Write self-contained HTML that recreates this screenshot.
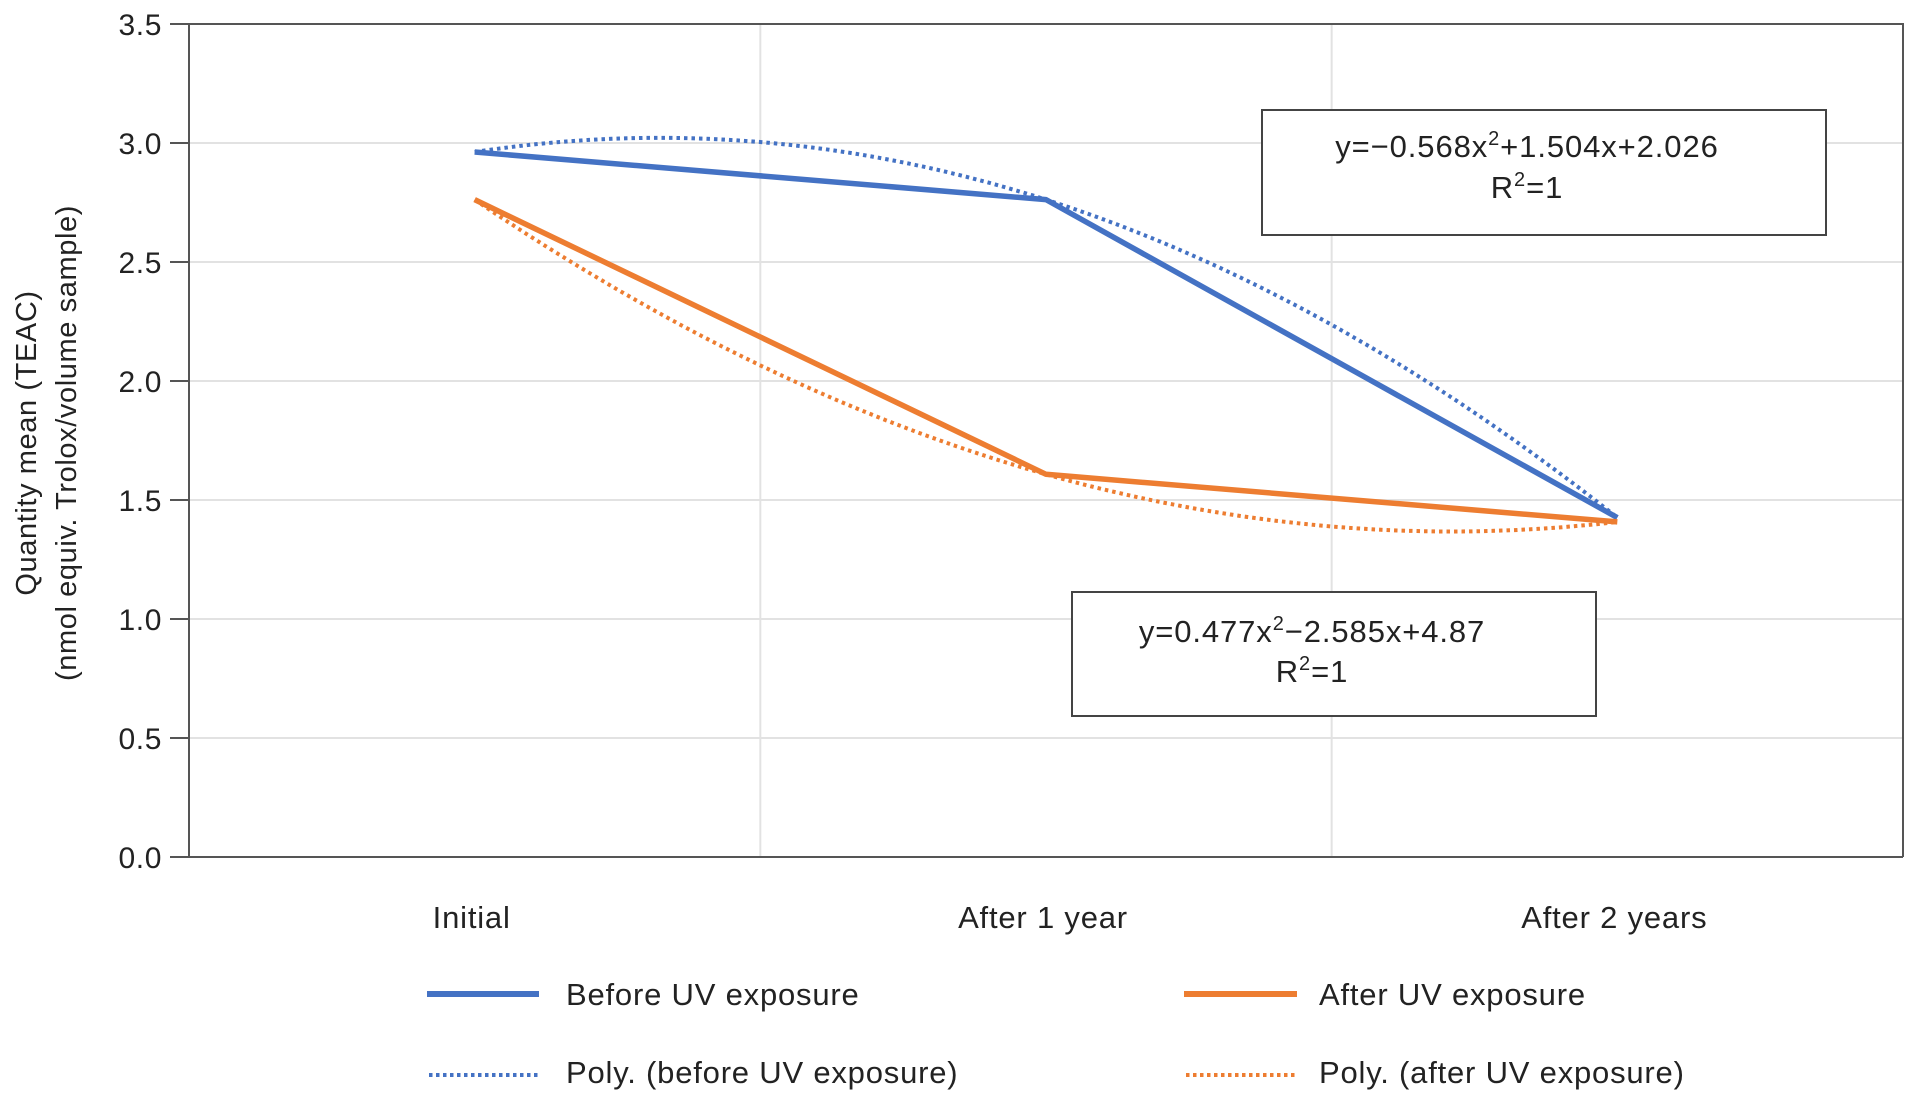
<!DOCTYPE html>
<html><head><meta charset="utf-8">
<style>
html,body{margin:0;padding:0;background:#fff;}
svg{display:block;font-family:"Liberation Sans",Arial,sans-serif;}
</style></head>
<body>
<svg id="chart" width="1913" height="1101" viewBox="0 0 1913 1101" xmlns="http://www.w3.org/2000/svg">
<g id="grid"></g>
<g id="axes"></g>
<g id="series"></g>
<g font-size="29" letter-spacing="0.6" fill="#222" text-anchor="middle">
<text transform="translate(36,443) rotate(-90)">Quantity mean (TEAC)</text>
<text transform="translate(76,443) rotate(-90)">(nmol equiv. Trolox/volume sample)</text>
</g>
<g>
<rect x="1262" y="110" width="564" height="125" fill="#fff" stroke="#444" stroke-width="2"/>
<text x="1527" y="157" font-size="31" letter-spacing="0.9" text-anchor="middle" fill="#222">y=−0.568x<tspan dy="-12" font-size="20">2</tspan><tspan dy="12">+1.504x+2.026</tspan></text>
<text x="1527" y="198" font-size="31" letter-spacing="0.9" text-anchor="middle" fill="#222">R<tspan dy="-12" font-size="20">2</tspan><tspan dy="12">=1</tspan></text>
</g>
<g>
<rect x="1072" y="592" width="524" height="124" fill="#fff" stroke="#444" stroke-width="2"/>
<text x="1312" y="642" font-size="31" letter-spacing="0.9" text-anchor="middle" fill="#222">y=0.477x<tspan dy="-12" font-size="20">2</tspan><tspan dy="12">−2.585x+4.87</tspan></text>
<text x="1312" y="682" font-size="31" letter-spacing="0.9" text-anchor="middle" fill="#222">R<tspan dy="-12" font-size="20">2</tspan><tspan dy="12">=1</tspan></text>
</g>
<g font-size="31" letter-spacing="0.8" fill="#222">
<g><line x1="427" y1="994" x2="539" y2="994" stroke="#4472c4" stroke-width="6"/><text x="566" y="1005">Before UV exposure</text></g>
<g><line x1="1184" y1="994" x2="1297" y2="994" stroke="#ed7d31" stroke-width="6"/><text x="1319" y="1005">After UV exposure</text></g>
<g><line x1="429" y1="1075" x2="539" y2="1075" stroke="#4472c4" stroke-width="4" stroke-dasharray="3.5,3.5"/><text x="566" y="1083">Poly. (before UV exposure)</text></g>
<g><line x1="1186" y1="1075" x2="1297" y2="1075" stroke="#ed7d31" stroke-width="4" stroke-dasharray="3.5,3.5"/><text x="1319" y="1083">Poly. (after UV exposure)</text></g>
</g>
</svg>
<script>
const categories = ["Initial", "After 1 year", "After 2 years"];
const beforeUV = [2.962, 2.762, 1.426];
const afterUV = [2.762, 1.608, 1.408];
const polyBefore = [-0.568, 1.504, 2.026];
const polyAfter = [0.477, -2.585, 4.87];
const yTicks = [0, 0.5, 1.0, 1.5, 2.0, 2.5, 3.0, 3.5];

const NS = "http://www.w3.org/2000/svg";
const L = 189, R = 1903, T = 24, B = 857, yMax = 3.5;
const band = (R - L) / categories.length;
const xPos = i => L + band * (i + 0.5);
const xCont = x => L + band * (x - 0.5);
const yPos = v => B - (v / yMax) * (B - T);
function mk(tag, attrs, parent){const e=document.createElementNS(NS,tag);for(const k in attrs)e.setAttribute(k,attrs[k]);parent.appendChild(e);return e;}
const gridG=document.getElementById('grid'), axesG=document.getElementById('axes'), seriesG=document.getElementById('series');

yTicks.forEach(t=>{
  const y=yPos(t);
  if(t>0&&t<yMax){const g=mk('line',{x1:L,x2:R,y1:y,y2:y,stroke:'#e2e2e2','stroke-width':2},gridG);
  
  }
  const tk=mk('line',{x1:170,x2:L,y1:y,y2:y,stroke:'#555','stroke-width':2},axesG);
  
  
  const tx=mk('text',{x:162,y:y+11,'font-size':30,'letter-spacing':0.6,'text-anchor':'end',fill:'#222'},axesG);
  tx.textContent=t.toFixed(1);
  
  
});
for(let i=1;i<categories.length;i++){
  const x=L+band*i;
  const g=mk('line',{x1:x,x2:x,y1:T,y2:B,stroke:'#e2e2e2','stroke-width':2},gridG);
  
  
}
const frame=mk('path',{d:`M${L},${T} H${R} V${B} M${L},${T} V${B} H${R}`,fill:'none',stroke:'#555','stroke-width':2},axesG);


categories.forEach((c,i)=>{
  const tx=mk('text',{x:xPos(i)-3,y:928,'font-size':31,'letter-spacing':0.8,'text-anchor':'middle',fill:'#222'},axesG);
  tx.textContent=c;
  
  
});
function poly(c, name, color){
  let d='';
  for(let k=0;k<=100;k++){const x=1+2*k/100;const v=c[0]*x*x+c[1]*x+c[2];d+=(k?'L':'M')+xCont(x).toFixed(1)+','+yPos(v).toFixed(1);}
  const p=mk('path',{d,fill:'none',stroke:color,'stroke-width':4,'stroke-dasharray':'3.5,4'},seriesG);
  
  
}
function line(vals,name,color){
  const d=vals.map((v,i)=>(i?'L':'M')+xPos(i)+','+yPos(v)).join(' ');
  const p=mk('path',{d,fill:'none',stroke:color,'stroke-width':5.5,'stroke-linejoin':'round'},seriesG);
  
  
}
poly(polyBefore,'poly-before-uv-line','#4472c4');
poly(polyAfter,'poly-after-uv-line','#ed7d31');
line(beforeUV,'before-uv-line','#4472c4');
line(afterUV,'after-uv-line','#ed7d31');
</script>
</body></html>
